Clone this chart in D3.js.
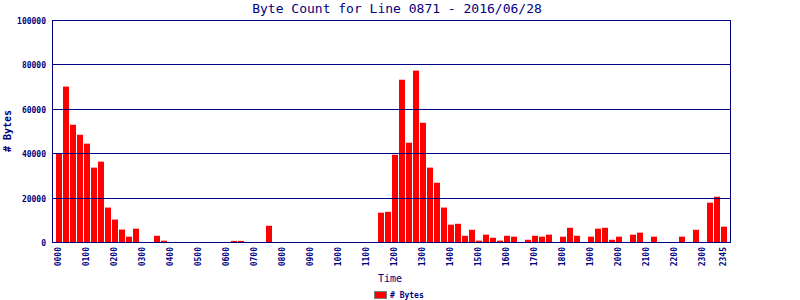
<!DOCTYPE html>
<html><head><meta charset="utf-8">
<script src="https://cdn.jsdelivr.net/npm/d3@7"></script>
<style>body{margin:0;background:#fff}svg{display:block}</style>
</head><body>
<svg id="c" width="800" height="300"></svg>
<script>
const title = "Byte Count for Line 0871 - 2016/06/28";
const seriesName = "# Bytes";
const xTitle = "Time";
const slots = d3.range(96).map(i => String(Math.floor(i/4)).padStart(2,"0") + String((i%4)*15).padStart(2,"0"));
const bytes = [
 40000,70000,52800,48300, 44300,33500,36200,15500, 10100,5600,2400,6000, 0,0,2800,600,
 0,0,0,0, 0,0,0,0, 0,500,500,0, 0,0,7300,0,
 0,0,0,0, 0,0,0,0, 0,0,0,0, 0,0,13200,13600,
 39300,73100,44700,77200, 53700,33500,26700,15500, 7800,8200,2800,5500, 600,3300,1900,600,
 2800,2400,0,1000, 2800,2400,3300,0, 2400,6400,2800,0, 2400,6000,6400,1000,
 2400,0,3300,4200, 0,2400,0,0, 0,2400,0,5500, 0,17700,20400,6900
];
const xTickLabels = ["0000","0100","0200","0300","0400","0500","0600","0700","0800","0900","1000","1100","1200","1300","1400","1500","1600","1700","1800","1900","2000","2100","2200","2300","2345"];
const yTicks = [0,20000,40000,60000,80000,100000];

const navy = "#000080";
const svg = d3.select("#c");
const x = d3.scaleBand().domain(slots).range([56, 728]);
const y = d3.scaleLinear().domain([0,100000]).range([242, 20]);
const L = 52, R = 730;

svg.append("text").attr("x", 397).attr("y", 13).attr("text-anchor","middle")
  .attr("font-family","DejaVu Sans Mono").attr("font-size",13).attr("fill",navy).text(title);

// bars
svg.append("g").selectAll("rect").data(slots).join("rect")
  .attr("x", d => x(d)).attr("width", x.bandwidth()-1)
  .attr("y", (d,i) => y(bytes[i])).attr("height", (d,i) => 242 - y(bytes[i]))
  .attr("fill", "#ff0000");

// grid lines
svg.append("g").selectAll("line").data(yTicks).join("line")
  .attr("x1", L).attr("x2", R+1)
  .attr("y1", d => Math.round(y(d))+0.5).attr("y2", d => Math.round(y(d))+0.5)
  .attr("stroke", navy).attr("stroke-width",1);
svg.append("line").attr("x1",L+0.5).attr("x2",L+0.5).attr("y1",20).attr("y2",243).attr("stroke",navy);
svg.append("line").attr("x1",R+0.5).attr("x2",R+0.5).attr("y1",20).attr("y2",243).attr("stroke",navy);

// y labels
svg.append("g").selectAll("text").data(yTicks).join("text")
  .attr("x", 46).attr("y", d => Math.round(y(d))+3.5).attr("text-anchor","end")
  .attr("font-family","DejaVu Sans Mono").attr("font-size",8).attr("font-weight","bold")
  .attr("fill",navy).text(d => d);

// x labels
svg.append("g").selectAll("text").data(xTickLabels).join("text")
  .attr("transform", d => `translate(${x(d)+5},247) rotate(-90)`)
  .attr("text-anchor","end")
  .attr("font-family","DejaVu Sans Mono").attr("font-size",8).attr("font-weight","bold")
  .attr("fill",navy).text(d => d);

svg.append("text").attr("transform","translate(11,131) rotate(-90)").attr("text-anchor","middle")
  .attr("font-family","DejaVu Sans Mono").attr("font-size",10).attr("font-weight","bold")
  .attr("fill",navy).text(seriesName);
svg.append("text").attr("x",390).attr("y",282).attr("text-anchor","middle")
  .attr("font-family","DejaVu Sans Mono").attr("font-size",10)
  .attr("fill",navy).text(xTitle);

// legend
svg.append("rect").attr("x",374.5).attr("y",291.5).attr("width",12).attr("height",7)
  .attr("fill","#ff0000").attr("stroke","#808080");
svg.append("text").attr("x",390).attr("y",298)
  .attr("font-family","DejaVu Sans Mono").attr("font-size",8).attr("font-weight","bold")
  .attr("fill",navy).text(seriesName);
</script>
</body></html>
